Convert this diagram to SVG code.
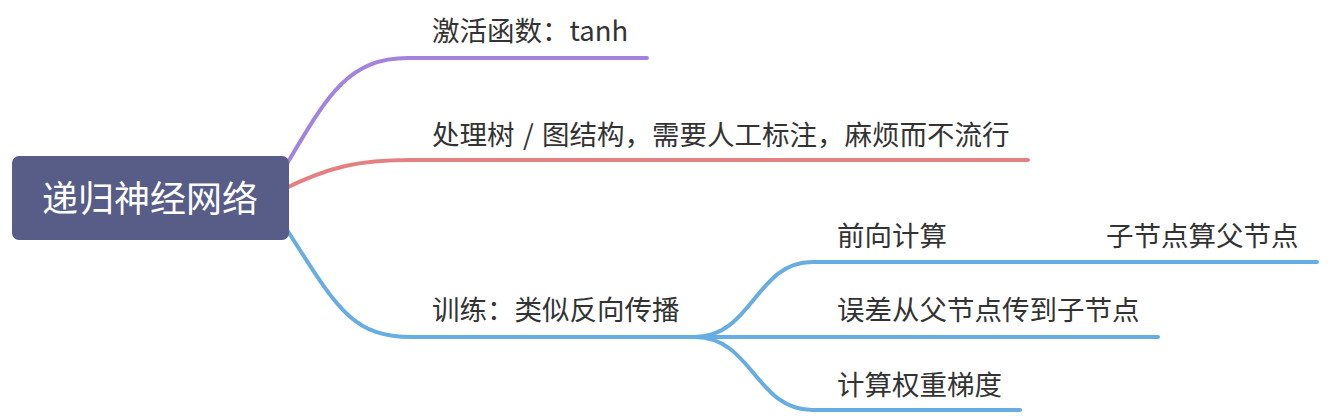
<svg xmlns="http://www.w3.org/2000/svg" width="1328" height="416" viewBox="0 0 1328 416">
<style>
.c{fill:none;stroke-width:4;stroke-linecap:round}
.t{font-family:"Noto Sans CJK SC","Noto Sans",sans-serif;font-size:27.5px;fill:#333}
.r{font-family:"Noto Sans CJK SC","Noto Sans",sans-serif;font-size:36px;fill:#fff}
</style>
<rect width="1328" height="416" fill="#fff"/>
<g id="connectors">
<path class="c" stroke="#a383dd" d="M282,172 C326,98 346,58 408,58 H647"/>
<path class="c" stroke="#e58080" d="M282,190 C330,166 360,160 410,160 H1028"/>
<path class="c" stroke="#68ade2" d="M282,222 C336,306 350,337 412,337 H700"/>
<path class="c" stroke="#68ade2" d="M695,337 C752,337 756,262 812,262 H1317"/>
<path class="c" stroke="#68ade2" d="M695,337 H1158"/>
<path class="c" stroke="#68ade2" d="M695,337 C752,337 756,410 812,410 H1020"/>
</g>
<g id="root">
<rect x="12" y="156" width="277" height="84" rx="7" fill="#575d87"/>
<text class="r" x="150" y="212" text-anchor="middle">递归神经网络</text>
</g>
<g id="n1"><text class="t" x="432" y="41">激活函数：tanh</text></g>
<g id="n2"><text class="t" x="432" y="145">处理树<tspan x="523">/</tspan><tspan x="542">图结构，需要人工标注，麻烦而不流行</tspan></text></g>
<g id="n3"><text class="t" x="432" y="320">训练：类似反向传播</text></g>
<g id="n4"><text class="t" x="837" y="246">前向计算</text></g>
<g id="n5"><text class="t" x="1106" y="246">子节点算父节点</text></g>
<g id="n6"><text class="t" x="837" y="320">误差从父节点传到子节点</text></g>
<g id="n7"><text class="t" x="837" y="395">计算权重梯度</text></g>
</svg>
